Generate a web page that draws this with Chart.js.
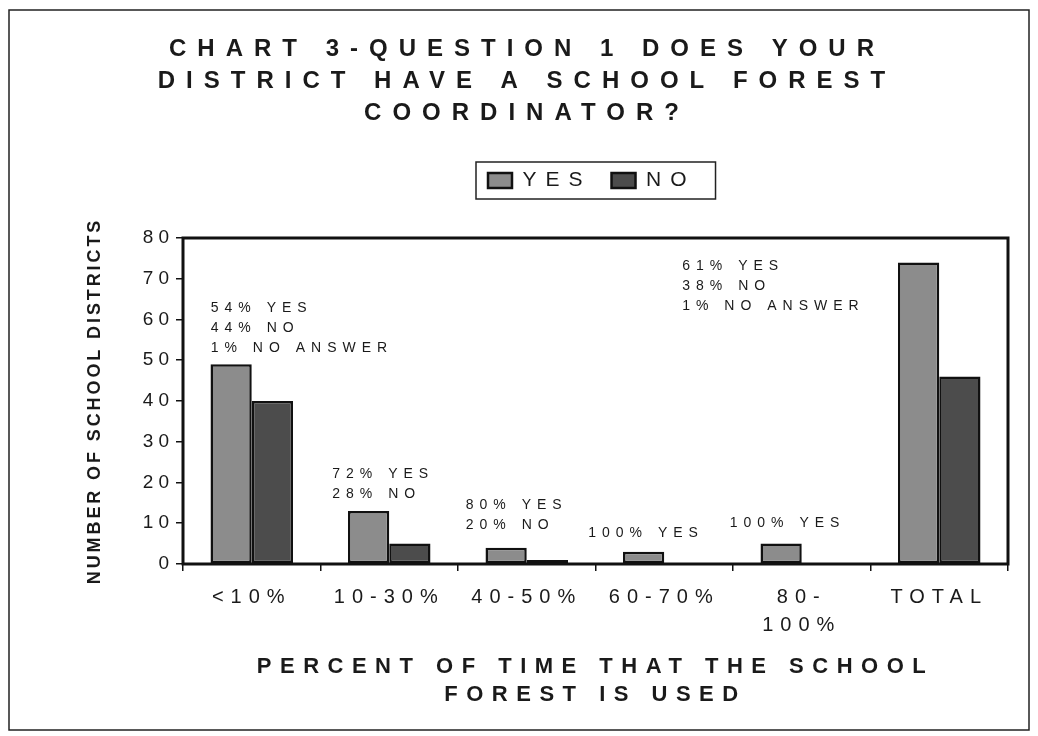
<!DOCTYPE html>
<html><head><meta charset="utf-8">
<script src="https://cdn.jsdelivr.net/npm/chart.js@4.4.0/dist/chart.umd.min.js"></script>
<style>html,body{margin:0;padding:0;background:#fff;} #wrap{width:1038px;height:736px;}</style>
</head><body><div id="wrap"><canvas id="c" width="1038" height="736"></canvas></div>
<script>
// ---------- data ----------
const categories = ['<10%', '10-30%', '40-50%', '60-70%', ['80-', '100%'], 'TOTAL'];
const seriesNames = ['YES', 'NO'];
const yesValues = [49, 13, 4, 3, 5, 74];
const noValues = [40, 5, 1, 0, 0, 46];
const yTicks = [0, 10, 20, 30, 40, 50, 60, 70, 80];
const titleLines = ['CHART 3-QUESTION 1 DOES YOUR', 'DISTRICT HAVE A SCHOOL FOREST', 'COORDINATOR?'];
const xTitleLines = ['PERCENT OF TIME THAT THE SCHOOL', 'FOREST IS USED'];
const yTitleText = 'NUMBER OF SCHOOL DISTRICTS';
const noteLines = [
  ['54% YES', '44% NO', '1% NO ANSWER'],
  ['72% YES', '28% NO'],
  ['80% YES', '20% NO'],
  ['100% YES'],
  ['100% YES'],
  ['61% YES', '38% NO', '1% NO ANSWER']
];

// ---------- layout / style (not data) ----------
const notePlacement = [
  {dx: -41, y: 62.8}, {dx: -57, y: 22.1}, {dx: -61, y: 14.5},
  {dx: -76, y: 7.6}, {dx: -72, y: 10.1}, {dx: -257, y: 73.2}
];
const SPACING = {24: 11, 22: 8.5, 18: 2.9, 19: 5, 20: 7, 21: 9, 14: 6};
const FAMILY = "'Liberation Sans', Arial, sans-serif";

// letter spacing by font size (reference text is widely tracked)
(function () {
  const proto = CanvasRenderingContext2D.prototype;
  const ft = proto.fillText, mt = proto.measureText;
  function apply(ctx) {
    const m = /(\d+(?:\.\d+)?)px/.exec(ctx.font);
    const s = m ? SPACING[Math.round(+m[1])] : 0;
    try { ctx.letterSpacing = (s || 0) + 'px'; } catch (e) {}
  }
  proto.fillText = function () { apply(this); return ft.apply(this, arguments); };
  proto.measureText = function () { apply(this); return mt.apply(this, arguments); };
})();

Chart.defaults.font.family = FAMILY;
Chart.defaults.color = '#1a1a1a';

const decor = {
  id: 'decor',
  afterLayout(chart) {
    // title: shift toward page centre
    const tb = chart.titleBlock;
    tb.left += 18; tb.right += 18;
    // legend: place the boxed legend like the reference
    const lg = chart.legend;
    const pad = lg.options.labels.padding;
    const start = (lg.left + pad + lg.right - lg.lineWidths[0]) / 2;
    const shiftX = 488 - start;
    lg.left += shiftX; lg.right += shiftX;
    const h = lg.bottom - lg.top;
    lg.top = 150; lg.bottom = lg.top + h;
  },
  beforeDraw(chart) {
    const ctx = chart.ctx;
    ctx.save();
    ctx.fillStyle = '#ffffff';
    ctx.fillRect(0, 0, chart.width, chart.height);
    ctx.strokeStyle = '#222';
    ctx.lineWidth = 1.5;
    ctx.strokeRect(9, 10, chart.width - 18, chart.height - 16);
    ctx.restore();
  },
  afterDraw(chart) {
    const ctx = chart.ctx, a = chart.chartArea;
    ctx.save();
    // plot frame
    ctx.strokeStyle = '#111';
    ctx.lineWidth = 3;
    ctx.strokeRect(a.left, a.top, a.right - a.left, a.bottom - a.top);
    // legend border
    const lg = chart.legend;
    const pad = lg.options.labels.padding;
    const lw = lg.lineWidths[0];
    const x0 = (lg.left + pad + lg.right - lw) / 2;
    const y0 = lg.top + pad;
    ctx.lineWidth = 1.5;
    ctx.strokeStyle = '#222';
    ctx.strokeRect(x0 - 12, y0 - 8, lw + 12, 37);
    // notes
    const xs = chart.scales.x, ys = chart.scales.y;
    ctx.fillStyle = '#1a1a1a';
    ctx.font = '14px ' + FAMILY;
    ctx.textAlign = 'left';
    ctx.textBaseline = 'middle';
    noteLines.forEach((lines, i) => {
      const p = notePlacement[i];
      const x = xs.getPixelForValue(i) + p.dx;
      const y = ys.getPixelForValue(p.y);
      lines.forEach((t, k) => ctx.fillText(t, x, y + k * 20));
    });
    ctx.restore();
  }
};

new Chart(document.getElementById('c'), {
  type: 'bar',
  data: {
    labels: categories,
    datasets: [
      {label: seriesNames[0], data: yesValues, backgroundColor: '#8c8c8c', borderColor: '#111', borderWidth: 2.5, borderSkipped: false},
      {label: seriesNames[1], data: noValues, backgroundColor: '#4c4c4c', borderColor: '#111', borderWidth: 2.5, borderSkipped: false}
    ]
  },
  options: {
    responsive: false,
    animation: false,
    layout: {padding: {top: 10, left: 10, right: 30, bottom: 10}},
    datasets: {bar: {categoryPercentage: 0.6, barPercentage: 1.0}},
    plugins: {
      tooltip: {enabled: false},
      title: {
        display: true, text: titleLines, color: '#1a1a1a',
        font: {size: 24, weight: 'bold', lineHeight: 1.3333},
        padding: {top: 23, bottom: 58}
      },
      legend: {
        display: true, position: 'top',
        labels: {
          font: {size: 21}, color: '#1a1a1a',
          boxWidth: 24, boxHeight: 15, padding: 20
        }
      }
    },
    scales: {
      x: {
        grid: {display: true, offset: true, drawOnChartArea: false, drawTicks: true, tickLength: 7, color: '#111', lineWidth: 1.5},
        border: {display: true, color: '#111', width: 2},
        ticks: {font: {size: 20, lineHeight: 1.4}, color: '#1a1a1a', padding: 12, maxRotation: 0, autoSkip: false},
        title: {display: true, text: xTitleLines, color: '#1a1a1a', font: {size: 22, weight: 'bold', lineHeight: 1.27}, padding: {top: 4, bottom: 17}},
        afterFit(s) { s.height = 162; }
      },
      y: {
        min: 0, max: 80,
        afterBuildTicks(s) { s.ticks = yTicks.map(v => ({value: v})); },
        grid: {display: true, drawOnChartArea: false, drawTicks: true, tickLength: 7, color: '#111', lineWidth: 1.5},
        border: {display: true, color: '#111', width: 2},
        ticks: {font: {size: 19}, color: '#1a1a1a', padding: 2},
        title: {display: true, text: yTitleText, color: '#1a1a1a', font: {size: 18, weight: 'bold', lineHeight: 1.2}, padding: {top: 74, bottom: 0}},
        afterFit(s) { s.width = 173; }
      }
    }
  },
  plugins: [decor]
});
</script></body></html>
